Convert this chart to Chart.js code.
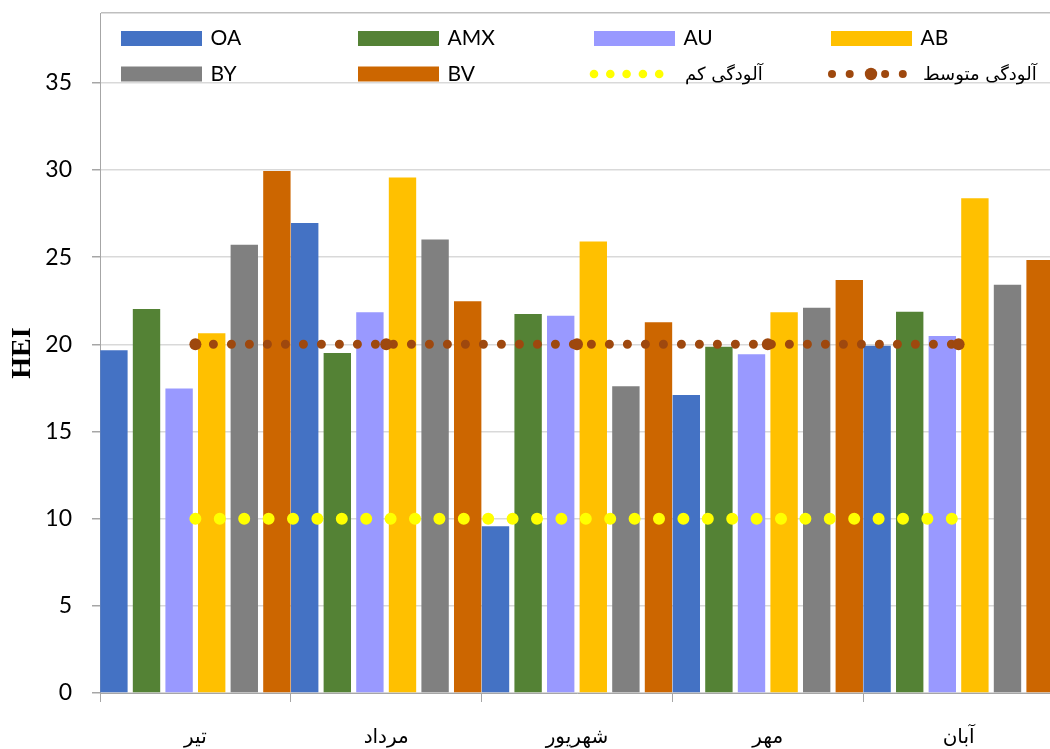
<!DOCTYPE html>
<html>
<head>
<meta charset="utf-8">
<script src="https://cdn.jsdelivr.net/npm/chart.js@4/dist/chart.umd.min.js"></script>
<style>
  html, body { margin: 0; padding: 0; background: #fff; overflow: hidden; }
  #wrap { width: 1060px; height: 749px; position: relative; }
</style>
</head>
<body>
<div id="wrap"><canvas id="c" width="1060" height="749"></canvas></div>
<script>
const categories = ['تیر', 'مرداد', 'شهریور', 'مهر', 'آبان'];
const seriesNames = ['OA', 'AMX', 'AU', 'AB', 'BY', 'BV'];
const OA  = [19.66, 26.95, 9.57, 17.09, 19.92];
const AMX = [22.03, 19.50, 21.74, 19.86, 21.87];
const AU  = [17.47, 21.84, 21.63, 19.43, 20.48];
const AB  = [20.63, 29.57, 25.90, 21.84, 28.37];
const BY  = [25.71, 26.01, 17.60, 22.10, 23.41];
const BV  = [29.94, 22.47, 21.26, 23.68, 24.83];
const lowPollution = [10, 10, 10, 10, 10];
const mediumPollution = [20, 20, 20, 20, 20];
const lowLabel = 'آلودگی کم';
const mediumLabel = 'آلودگی متوسط';
const yAxisTitle = 'HEI';
const yMin = 0, yMax = 39, yStep = 5;

const barColors = ['#4472C4', '#548235', '#9999FF', '#FFC000', '#808080', '#CC6600'];
const barValues = [OA, AMX, AU, AB, BY, BV];
const brown = '#9E480E';
const yellow = '#FFFF00';

const barDatasets = seriesNames.map((n, i) => ({
  type: 'bar', label: n, data: barValues[i], backgroundColor: barColors[i],
  borderWidth: 0, order: 2,
  categoryPercentage: 1.025, barPercentage: 0.84
}));

const lineDatasets = [
  { type: 'line', label: lowLabel, data: lowPollution, borderColor: yellow, backgroundColor: yellow,
    borderWidth: 12, borderDash: [0, 24.4], borderCapStyle: 'round', pointRadius: 0, pointHoverRadius: 0,
    tension: 0, fill: false, order: 0 },
  { type: 'line', label: mediumLabel, data: mediumPollution, borderColor: brown, backgroundColor: brown,
    borderWidth: 9, borderDash: [0, 18], borderCapStyle: 'round', pointRadius: 6, pointBorderWidth: 0,
    pointBackgroundColor: brown, pointHoverRadius: 6, tension: 0, fill: false, order: 0 }
];

const legendPlugin = {
  id: 'overlayLegend',
  afterDraw(chart) {
    const ctx = chart.ctx;
    const cols = [121, 358, 594, 831];
    const rows = [38.5, 74];
    const swW = 81, swH = 15, textOff = 89.5;
    ctx.save();
    ctx.textBaseline = 'middle';
    ctx.textAlign = 'left';
    ctx.fillStyle = '#000';
    const items = [];
    seriesNames.forEach((n, i) => items.push({ kind: 'bar', label: n, color: barColors[i] }));
    items.push({ kind: 'low', label: lowLabel });
    items.push({ kind: 'med', label: mediumLabel });
    items.forEach((it, idx) => {
      const c = idx % 4, r = Math.floor(idx / 4);
      const x = cols[c], y = rows[r];
      if (it.kind === 'bar') {
        ctx.fillStyle = it.color;
        ctx.fillRect(x, y - swH / 2, swW, swH);
        ctx.fillStyle = '#000';
        ctx.font = '21px Lato, "Liberation Sans", sans-serif';
        ctx.fillText(it.label, x + textOff, y);
      } else if (it.kind === 'low') {
        ctx.fillStyle = yellow;
        for (let k = 0; k < 5; k++) {
          ctx.beginPath(); ctx.arc(x + k * 16.3, y, 4.3, 0, Math.PI * 2); ctx.fill();
        }
        ctx.fillStyle = '#000';
        ctx.font = '18px "DejaVu Sans", serif';
        ctx.fillText(it.label, x + 91, y + 1);
      } else {
        ctx.fillStyle = brown;
        [0, 17.7, 53.1, 70.8].forEach(dx => { ctx.beginPath(); ctx.arc(x + 1 + dx, y, 4, 0, Math.PI * 2); ctx.fill(); });
        ctx.beginPath(); ctx.arc(x + 40, y, 6.2, 0, Math.PI * 2); ctx.fill();
        ctx.fillStyle = '#000';
        ctx.font = '18px "DejaVu Sans", serif';
        ctx.fillText(it.label, x + 92, y + 1);
      }
    });
    ctx.restore();
  }
};

new Chart(document.getElementById('c'), {
  data: { labels: categories, datasets: [...lineDatasets, ...barDatasets] },
  options: {
    responsive: false,
    animation: false,
    devicePixelRatio: 1,
    layout: { padding: { top: 13, right: 3, left: 0, bottom: 0 } },
    plugins: { legend: { display: false }, tooltip: { enabled: false } },
    scales: {
      x: {
        type: 'category',
        offset: true,
        grid: { offset: true, drawOnChartArea: false, drawTicks: true, tickLength: 9, tickColor: '#a6a6a6', tickWidth: 1 },
        border: { display: true, color: '#a6a6a6', width: 1 },
        ticks: { color: '#000', padding: 24, font: { family: '"DejaVu Sans", serif', size: 20 }, maxRotation: 0 },
        afterFit(scale) { scale.height = 56; scale.paddingLeft = 0; scale.paddingRight = 0; }
      },
      y: {
        min: yMin, max: yMax,
        grid: {
          color: ctx => (ctx.tick && ctx.tick.value === yMax) ? '#bfbfbf' : '#d9d9d9',
          lineWidth: 1.5,
          tickLength: 8,
          tickColor: ctx => (ctx.tick && ctx.tick.value === yMax) ? 'rgba(0,0,0,0)' : '#a6a6a6'
        },
        border: { display: true, color: '#a6a6a6', width: 1 },
        ticks: {
          stepSize: yStep, padding: 20, color: '#000',
          font: { family: 'Lato, "Liberation Sans", sans-serif', size: 23 },
          callback: v => (v === yMax ? '' : v)
        },
        title: {
          display: true, text: yAxisTitle, color: '#000',
          font: { family: '"Liberation Serif", "Times New Roman", serif', size: 28, weight: 'bold' },
          padding: { top: 6, bottom: 0 }
        },
        afterFit(scale) { scale.width = 100; scale.paddingTop = 0; scale.paddingBottom = 0; }
      }
    }
  },
  plugins: [legendPlugin]
});
</script>
</body>
</html>
